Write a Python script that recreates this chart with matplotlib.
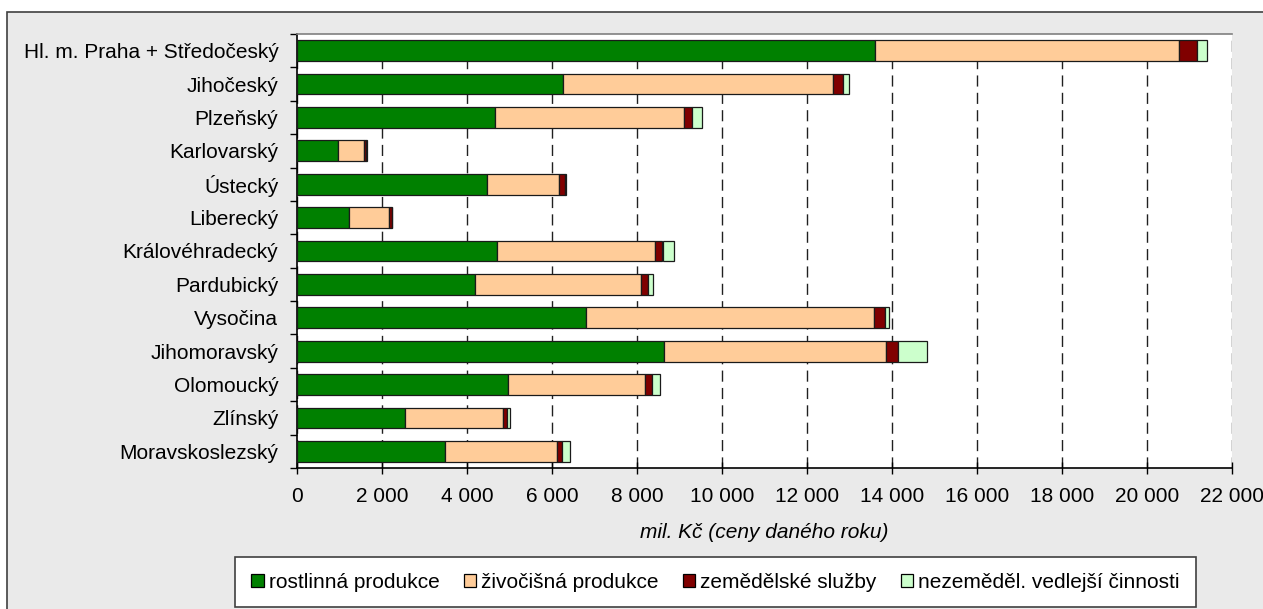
import matplotlib
matplotlib.use("Agg")
import matplotlib.pyplot as plt
from matplotlib.patches import Patch, Rectangle
from matplotlib.ticker import FuncFormatter, MultipleLocator, FixedLocator

plt.rcParams['font.family'] = ['Liberation Sans', 'DejaVu Sans']

regions = ['Hl. m. Praha + Středočeský', 'Jihočeský', 'Plzeňský', 'Karlovarský',
           'Ústecký', 'Liberecký', 'Královéhradecký', 'Pardubický', 'Vysočina',
           'Jihomoravský', 'Olomoucký', 'Zlínský', 'Moravskoslezský']

rostlinna = [13610, 6263, 4663, 968, 4463, 1221, 4716, 4179, 6810, 8642, 4968, 2547, 3474]
zivocisna = [7134, 6347, 4442, 611, 1695, 947, 3705, 3916, 6758, 5221, 3221, 2295, 2652]
sluzby = [432, 243, 179, 50, 137, 60, 179, 168, 274, 284, 169, 105, 116]
vedlejsi = [226, 126, 253, 15, 42, 15, 263, 116, 84, 684, 189, 74, 179]

series = [rostlinna, zivocisna, sluzby, vedlejsi]
labels = ['rostlinná produkce', 'živočišná produkce', 'zemědělské služby',
          'nezeměděl. vedlejší činnosti']
colors = ['#008000', '#FFCC99', '#800000', '#CCFFCC']

W, H = 1263, 609
fig = plt.figure(figsize=(W / 100, H / 100), dpi=100)
fig.patch.set_facecolor('white')

# grey panel behind the chart
bg = Rectangle((7 / W, -0.05), 1.1, (H - 12) / H + 0.05, transform=fig.transFigure,
               facecolor='#EAEAEA', edgecolor='#404040', linewidth=1.2, zorder=-10)
fig.patches.append(bg)

ax = fig.add_axes([297 / W, 1 - 468 / H, (1232 - 297) / W, (468 - 34) / H])
ax.set_zorder(1)
ax.set_facecolor('white')

ypos = list(range(len(regions)))
left = [0] * len(regions)
for vals, lab, col in zip(series, labels, colors):
    ax.barh(ypos, vals, left=left, height=0.62, color=col, edgecolor='#1a1a1a',
            linewidth=0.9, label=lab, zorder=3)
    left = [a + b for a, b in zip(left, vals)]

ax.set_xlim(0, 22000)
ax.set_ylim(len(regions) - 0.5, -0.5)

ax.xaxis.set_major_locator(MultipleLocator(2000))
ax.xaxis.set_major_formatter(FuncFormatter(lambda v, p: f"{v:,.0f}".replace(",", " ")))
ax.tick_params(axis='x', direction='inout', length=9, width=1, labelsize=15, pad=9)

ax.set_yticks(ypos)
ax.set_yticklabels(regions)
ax.yaxis.set_minor_locator(FixedLocator([i - 0.5 for i in range(len(regions) + 1)]))
ax.tick_params(axis='y', which='major', length=0, labelsize=15, pad=13.5)
ax.tick_params(axis='y', which='minor', direction='out', length=5, width=1)

ax.set_axisbelow(True)
ax.xaxis.grid(True, linestyle=(0, (8, 4.5)), color='#202020', linewidth=1)

ax.spines['left'].set_linewidth(1.2)
ax.spines['bottom'].set_linewidth(1.2)
ax.spines['top'].set_color('#808080')
ax.spines['top'].set_linewidth(1.2)
ax.spines['right'].set_visible(False)

fig.text((297 + 1232) / 2 / W, 1 - 532 / H, 'mil. Kč (ceny daného roku)',
         ha='center', va='center', fontsize=15, style='italic')

handles = [Patch(facecolor=c, edgecolor='black', linewidth=0.9) for c in colors]
leg = fig.legend(handles, labels, loc='center', ncol=4,
                 bbox_to_anchor=((235 + 1196) / 2 / W, 1 - 582 / H),
                 fontsize=15, frameon=True, fancybox=False, edgecolor='#404040',
                 framealpha=1, handlelength=0.6, handleheight=0.6, handletextpad=0.25,
                 columnspacing=1.15, borderpad=0.75, borderaxespad=0)
leg.get_frame().set_linewidth(1.2)
leg.get_frame().set_facecolor('white')

fig.savefig('out.png', dpi=100, facecolor=fig.get_facecolor())
